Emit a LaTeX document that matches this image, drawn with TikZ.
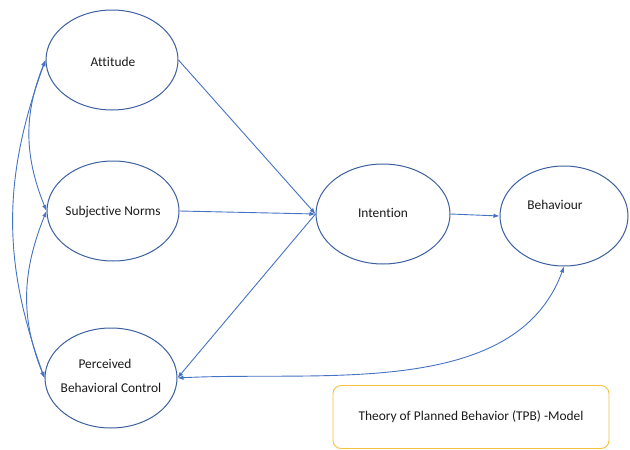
\documentclass[tikz,border=0pt]{standalone}
\usepackage{fontspec}
\setmainfont{Carlito}[Ligatures={NoCommon}]
\usetikzlibrary{shapes.geometric,arrows.meta}
\definecolor{lineblue}{HTML}{4472C4}
\definecolor{ellblue}{HTML}{3B5FA0}
\definecolor{boxorange}{HTML}{F5C242}
\definecolor{txt}{HTML}{1A1A1A}
\begin{document}
\begin{tikzpicture}[x=1pt,y=-1pt,
  construct/.style={ellipse,draw=ellblue,line width=1pt,fill=white,
    minimum width=132pt,minimum height=100pt,inner sep=0pt},
  lbl/.style={font=\fontsize{13.4}{16}\selectfont,text=txt},
  link/.style={draw=lineblue,line width=0.9pt,-{Latex[length=6pt,width=4.5pt]}},
  blink/.style={draw=lineblue,line width=0.9pt,{Latex[length=6pt,width=4.5pt]}-{Latex[length=6pt,width=4.5pt]}}]
\useasboundingbox (0,0) rectangle (630,450);
\node[construct] (att) at (112,60) {};
\node[lbl] (attt) at (113,62) {Attitude};
\node[construct] (sn) at (113,211) {};
\node[lbl] (snt) at (113,212) {Subjective Norms};
\node[construct] (pbc) at (111,378) {};
\node[lbl] (pbct1) at (105,364) {Perceived};
\node[lbl] (pbct2) at (111,388) {Behavioral Control};
\node[construct,minimum width=134pt] (int) at (383,214) {};
\node[lbl] (intt) at (383,213) {Intention};
\node[construct,minimum width=128pt] (beh) at (564,216) {};
\node[lbl] (beht) at (555,205) {Behaviour};
\node[lbl,draw=boxorange,line width=0.9pt,rounded corners=8pt,minimum width=276pt,minimum height=63pt] (tpb) at (471,417) {Theory of Planned Behavior (TPB) -Model};
% paths
\draw[link] (att.east) -- (int.west);
\draw[link] (sn.east) -- (int.west);
\draw[link] (int.west) -- (pbc.east);
\draw[link] (int.east) -- (beh.west);
\draw[blink] (beh.south) to[out=250,in=3,looseness=0.9] (pbc.east);
\draw[blink] (att.west) to[out=248,in=112] (sn.west);
\draw[blink] (sn.west) to[out=248,in=112] (pbc.west);
\draw[blink] (att.west) to[out=250,in=110] (pbc.west);
\end{tikzpicture}
\end{document}
